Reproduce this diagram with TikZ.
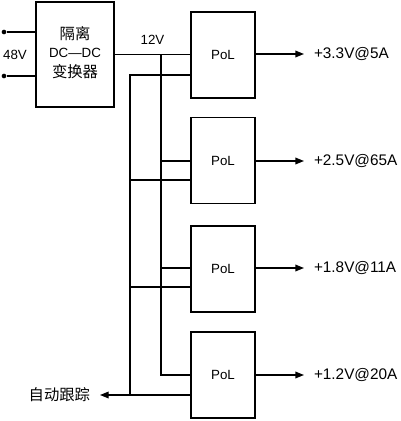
\documentclass[tikz,border=0pt]{standalone}
\usepackage{fontspec}
\setmainfont{Liberation Sans}
\newfontfamily\cjk{Noto Sans CJK SC}
\usetikzlibrary{arrows.meta}
\newcommand{\lbl}{\fontsize{10}{12}\selectfont}
\newcommand{\outfont}{\fontsize{11.5}{13}\selectfont}
\newcommand{\zh}{\cjk\fontsize{11.5}{13}\selectfont}

\begin{document}
\begin{tikzpicture}[x=0.75pt,y=-0.75pt,>={Triangle[length=6.5pt,width=5pt]},font=\lbl,
  wire/.style={line width=1pt},
  polbox/.style={draw,line width=1.3pt,minimum width=48pt,minimum height=64.5pt,inner sep=0pt,font=\lbl},
  convbox/.style={draw,line width=1.3pt,minimum width=58.5pt,minimum height=78.75pt,align=center,inner sep=0pt},
  outlabel/.style={anchor=west,inner sep=0pt,outer xsep=7.5pt,font=\outfont},
  term/.style={circle,fill,inner sep=0pt,minimum size=3.5pt}]
\useasboundingbox (0,0) rectangle (400,421);
% converter and point-of-load modules
\node[convbox] (conv) at (75,54.5) {\raisebox{3pt}{\begin{tabular}{@{}c@{}}{\zh 隔离}\\[1.5pt]DC—DC\\[1.5pt]{\zh 变换器}\end{tabular}}};
\node[polbox] (pol1) at (223,55) {PoL};
\node[polbox] (pol2) at (223,160.5) {PoL};
\node[polbox] (pol3) at (223,269) {PoL};
\node[polbox] (pol4) at (223,375) {PoL};
% 48V input
\node[term] (inA) at (4,32) {};
\node[term] (inB) at (4,76) {};
\node at (15,55) {48V};
\draw[wire] (inA) -- (inA -| conv.west);
\draw[wire] (inB) -- (inB -| conv.west);
% 12V bus
\draw[wire] (conv.east) -- node[above=4pt]{12V} (conv.east -| pol1.west);
\coordinate (bus12) at (161,54.5);
\coordinate (v2) at (191,161);
\coordinate (v3) at (191,268);
\coordinate (v4) at (191,375);
\draw[wire] (bus12) |- (v4);
\draw[wire] (bus12 |- v2) -- (v2);
\draw[wire] (bus12 |- v3) -- (v3);
% tracking bus
\coordinate (bustr) at (130,75);
\coordinate (t1) at (191,75);
\coordinate (t2) at (191,180);
\coordinate (t3) at (191,287);
\coordinate (t4) at (191,395);
\node[anchor=east,inner sep=0pt,outer xsep=7.5pt,font=\zh] (trk) at (100,395) {自动跟踪};
\draw[wire] (t1) -- (bustr) -- (bustr |- t4);
\draw[wire] (bustr |- t2) -- (t2);
\draw[wire] (bustr |- t3) -- (t3);
\draw[wire,->] (t4) -- (trk.east);
% outputs
\node[outlabel] (out1) at (304,54) {+3.3V@5A};
\node[outlabel] (out2) at (304,161) {+2.5V@65A};
\node[outlabel] (out3) at (304,268) {+1.8V@11A};
\node[outlabel] (out4) at (304,375) {+1.2V@20A};
\draw[wire,->] (out1.west -| pol1.east) -- (out1.west);
\draw[wire,->] (out2.west -| pol2.east) -- (out2.west);
\draw[wire,->] (out3.west -| pol3.east) -- (out3.west);
\draw[wire,->] (out4.west -| pol4.east) -- (out4.west);
\end{tikzpicture}
\end{document}
